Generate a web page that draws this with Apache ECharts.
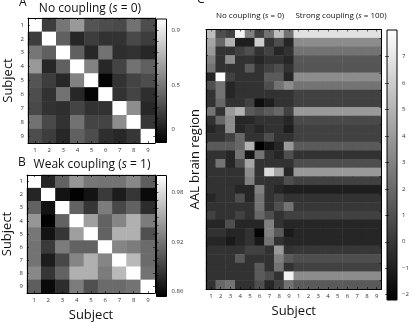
<!DOCTYPE html>
<html>
<head>
<meta charset="utf-8">
<script src="https://cdn.jsdelivr.net/npm/echarts@6/dist/echarts.min.js"></script>
<style>
  html, body { margin: 0; padding: 0; background: #fff; }
  #main { width: 412px; height: 323px; }
</style>
</head>
<body>
<div id="main"></div>
<script>
// subject labels (1..9)
var subjects = ['1', '2', '3', '4', '5', '6', '7', '8', '9']

// A: no coupling (s = 0), subject x subject correlation
var noCouplingA = [
  [1, 0.15, 0.4, 0.55, 0.25, 0.22, 0.2, 0.38, 0.22],
  [0.15, 1, 0.3, 0.05, 0.15, 0.1, 0.1, 0.2, 0.15],
  [0.4, 0.3, 1, 0.3, 0.05, 0.38, 0.08, 0.1, 0.05],
  [0.55, 0.05, 0.3, 1, 0.45, 0.05, 0.18, 0.38, 0.3],
  [0.25, 0.15, 0.05, 0.45, 1, -0.1, 0.1, 0.18, 0.22],
  [0.22, 0.1, 0.38, 0.05, -0.1, 1, 0.1, 0.18, 0.08],
  [0.2, 0.1, 0.08, 0.18, 0.1, 0.1, 1, 0.5, 0.05],
  [0.38, 0.2, 0.1, 0.38, 0.18, 0.18, 0.5, 1, 0.12],
  [0.22, 0.15, 0.05, 0.3, 0.22, 0.08, 0.05, 0.12, 1]
]

// B: weak coupling (s = 1)
var weakCouplingB = [
  [1, 0.875, 0.91, 0.94, 0.922, 0.92, 0.92, 0.932, 0.908],
  [0.875, 1, 0.865, 0.855, 0.865, 0.887, 0.87, 0.885, 0.86],
  [0.91, 0.865, 1, 0.91, 0.885, 0.925, 0.895, 0.91, 0.88],
  [0.94, 0.855, 0.91, 1, 0.945, 0.91, 0.93, 0.955, 0.925],
  [0.922, 0.865, 0.885, 0.945, 1, 0.91, 0.955, 0.955, 0.9],
  [0.92, 0.887, 0.925, 0.91, 0.91, 1, 0.93, 0.925, 0.915],
  [0.92, 0.87, 0.895, 0.93, 0.955, 0.93, 1, 0.96, 0.915],
  [0.932, 0.885, 0.91, 0.955, 0.955, 0.925, 0.96, 1, 0.92],
  [0.908, 0.86, 0.88, 0.925, 0.9, 0.915, 0.915, 0.92, 1]
]

// C: region x subject, no coupling
var regionNoCoupling = [
  [5.4, 0.9, 0.4, 7.5, 2.9, 0.4, 2.4, 5.4, 2.4],
  [4.4, 1.9, 4.9, -1.0, -1.0, 6.0, -0.2, 0.9, -0.7],
  [3.9, -0.2, -0.2, 0.4, 0.9, -0.2, 0.4, -0.7, -0.2],
  [2.9, -0.2, 3.4, -0.2, -0.2, -0.7, -0.2, -0.2, -0.7],
  [2.4, -0.2, -0.2, -0.2, 1.4, -0.2, 0.4, 0.9, -0.2],
  [-0.7, 8.0, 0.4, -0.2, -0.2, -0.2, 1.4, 1.4, -0.7],
  [0.9, 2.4, -0.7, -0.2, -0.2, -0.2, 0.9, 2.4, 3.4],
  [-0.2, 2.4, -0.7, -0.2, -0.2, -0.2, -0.2, -0.2, -0.2],
  [-0.2, 1.9, -0.2, -0.2, 0.4, -1.7, -1.0, -0.2, -0.2],
  [2.4, -0.2, 3.9, 4.9, 1.4, 0.9, 1.4, 1.9, 0.4],
  [-0.2, 1.9, 3.4, -0.7, -0.7, -0.2, -0.2, -0.2, -0.7],
  [-0.7, -0.2, 3.4, -0.7, -0.2, -0.7, -0.2, -0.2, -1.0],
  [-0.2, -0.2, 0.4, 1.9, -0.2, -0.2, 0.9, -0.2, -0.2],
  [1.4, 1.4, 1.4, 1.9, 4.9, -2.2, -1.4, -0.7, 3.9],
  [-0.2, -0.2, -0.7, 2.4, -1.4, 2.4, -0.2, -0.7, 0.9],
  [-0.2, 2.4, -0.7, 0.9, 4.4, -0.2, -0.2, -0.2, -0.2],
  [-0.2, -0.2, -0.2, -0.2, 3.4, -0.2, 6.5, 4.4, -0.7],
  [-0.2, -0.2, -0.2, -0.2, 2.9, -0.2, -0.2, -0.2, 0.9],
  [-0.2, -0.2, -0.2, -0.7, -0.7, 2.9, -0.2, -0.7, -1.0],
  [-0.7, -0.2, -0.2, 0.9, -0.7, 2.4, -0.2, 0.4, -0.2],
  [-0.2, -0.2, -0.2, -0.2, -0.2, 2.4, -0.2, 0.9, 2.4],
  [0.4, -0.2, -0.2, 0.4, -0.2, 1.9, 0.9, -0.2, 0.4],
  [-0.7, -0.7, 0.9, -0.7, -0.7, -0.7, 2.9, -0.2, -0.7],
  [-0.2, -0.2, -0.7, -0.7, -0.2, -2.0, 2.9, 1.4, -1.2],
  [-0.7, -0.7, -1.2, -0.7, -0.2, -1.2, 2.4, -0.2, -0.7],
  [-0.2, -0.2, -0.2, -0.2, 0.4, 0.4, -0.2, 3.9, -0.2],
  [-0.2, -0.2, -0.2, 1.4, -0.2, -0.2, -0.2, 2.9, 1.4],
  [-0.2, -0.2, -0.2, -0.2, -0.2, 1.4, -0.2, 2.4, -0.2],
  [-0.2, -0.2, -0.2, -0.2, -0.2, 1.4, 0.9, -0.2, 7.5],
  [-0.2, 1.9, 2.4, -0.2, -0.2, 0.9, -0.7, 0.4, 2.4]
]

// C: strong coupling (s = 100), one value per region (same for every subject)
var regionStrongCoupling = [6.8, 3.4, 2.4, 1.3, 1.2, 3.4, 2.4, 0.4, 0.4, 3.9,
  0.7, 0.4, 0.4, 1.4, -0.2, 0.9, 3.9, 0.4, -1.0, -0.2,
  0.0, 0.4, -0.7, -0.7, -0.7, 0.0, 0.9, 0.4, 3.4, 1.4]

// colour bar ranges and ticks
var rangeA = [-0.12, 1.0]
var rangeB = [0.854, 1.0]
var rangeC = [-2.2, 8.0]
var cbATicks = [0, 0.1, 0.2, 0.3, 0.4, 0.5, 0.6, 0.7, 0.8, 0.9]
var cbALabelValues = [0, 0.4, 0.9]
var cbALabels = ['0', '0.5', '0.9']
var cbBTicks = [0.86, 0.87, 0.88, 0.89, 0.9, 0.91, 0.92, 0.93, 0.94, 0.95, 0.96, 0.97, 0.98, 0.99]
var cbBLabels = [0.86, 0.92, 0.98]
var cbCTicks = [-2, -1, 0, 1, 2, 3, 4, 5, 6, 7]

var regionRows = regionNoCoupling.map(function (r, i) { return String(i + 1) })
var subjectsC = subjects.concat(subjects)

function cells(matrix) {
  var out = []
  matrix.forEach(function (row, r) {
    row.forEach(function (v, c) {
      out.push([c, r, v])
    })
  })
  return out
}

var matrixC = regionNoCoupling.map(function (row, r) {
  return row.concat(subjects.map(function () { return regionStrongCoupling[r] }))
})

var FONT = 'Open Sans'
var tickFont = { fontSize: 6, color: '#333', fontFamily: FONT }
var lineBlack = { show: true, lineStyle: { color: '#000', width: 1 } }

function catAxis(gridIndex, data, position, opts) {
  opts = opts || {}
  return Object.assign({
    type: 'category',
    gridIndex: gridIndex,
    data: data,
    position: position,
    inverse: opts.inverse || false,
    z: 5,
    axisLine: lineBlack,
    axisTick: { show: true, inside: true, length: 2, alignWithLabel: true, lineStyle: { color: '#000', width: 0.6 } },
    axisLabel: Object.assign({ show: !!opts.labels, margin: 4 }, tickFont),
    splitLine: { show: false }
  }, opts.extra || {})
}

function cbValueAxis(gridIndex, range, ticks, position, labelValues, formatter) {
  return {
    type: 'value',
    gridIndex: gridIndex,
    position: position,
    min: range[0],
    max: range[1],
    axisLine: { show: false },
    splitLine: { show: false },
    axisTick: { show: true, inside: true, length: 2, customValues: ticks, lineStyle: { color: '#000', width: 0.6 } },
    axisLabel: labelValues ? Object.assign({ show: true, margin: 5, customValues: labelValues, formatter: formatter }, tickFont) : { show: false }
  }
}

function cbHiddenX(gridIndex) {
  return { type: 'value', gridIndex: gridIndex, min: 0, max: 1, show: false }
}

function gray() {
  return new echarts.graphic.LinearGradient(0, 0, 0, 1, [
    { offset: 0, color: '#ffffff' },
    { offset: 1, color: '#000000' }
  ])
}

function richTitle(pre, post, left, top, size) {
  return {
    text: '{n|' + pre + '}{i|s}{n|' + post + '}',
    left: left,
    top: top,
    textAlign: 'center',
    padding: 0,
    textStyle: {
      fontWeight: 'normal',
      rich: {
        n: { fontSize: size, fontFamily: FONT, fontWeight: 'normal', color: '#111' },
        i: { fontSize: size, fontFamily: FONT, fontWeight: 'normal', color: '#111', fontStyle: 'italic' }
      }
    }
  }
}

function letter(t, left, top) {
  return { text: t, left: left, top: top, padding: 0, textStyle: { fontSize: 12, fontWeight: 'normal', fontFamily: FONT, color: '#111' } }
}

var nameStyle = { fontSize: 13, fontFamily: FONT, color: '#111' }

var myChart = echarts.init(document.getElementById('main'), null, { renderer: 'canvas' })

myChart.setOption({
  animation: false,
  backgroundColor: '#fff',
  title: [
    letter('A', 19, -3),
    letter('B', 18, 157),
    letter('C', 197, -6),
    richTitle('No coupling (', ' = 0)', 90, 3, 12),
    richTitle('Weak coupling (', ' = 1)', 92, 159, 12),
    richTitle('No coupling (', ' = 0)', 250, 12, 8),
    richTitle('Strong coupling (', ' = 100)', 341, 12, 8)
  ],
  grid: [
    { left: 28, top: 18, width: 127, height: 125, containLabel: false },
    { left: 156.5, top: 19, width: 10, height: 123.5, show: true, backgroundColor: gray(), borderColor: '#000', borderWidth: 1 },
    { left: 27, top: 175, width: 128, height: 123 },
    { left: 156.5, top: 175.5, width: 10, height: 121, show: true, backgroundColor: gray(), borderColor: '#000', borderWidth: 1 },
    { left: 206, top: 29.5, width: 175.5, height: 268.5 },
    { left: 387, top: 30, width: 10, height: 270, show: true, backgroundColor: gray(), borderColor: '#000', borderWidth: 1 }
  ],
  xAxis: [
    catAxis(0, subjects, 'bottom', { labels: true }),
    catAxis(0, subjects, 'top'),
    cbHiddenX(1),
    catAxis(2, subjects, 'bottom', { labels: true, extra: { name: 'Subject', nameLocation: 'middle', nameGap: 16, nameTextStyle: nameStyle } }),
    catAxis(2, subjects, 'top'),
    cbHiddenX(3),
    catAxis(4, subjectsC, 'bottom', { labels: true, extra: { name: 'Subject', nameLocation: 'middle', nameGap: 16, nameTextStyle: nameStyle } }),
    catAxis(4, subjectsC, 'top'),
    cbHiddenX(5)
  ],
  yAxis: [
    catAxis(0, subjects, 'left', { labels: true, inverse: true, extra: { name: 'Subject', nameLocation: 'middle', nameGap: 13, nameTextStyle: nameStyle } }),
    catAxis(0, subjects, 'right', { inverse: true }),
    cbValueAxis(1, rangeA, cbATicks, 'right', cbALabelValues, function (v) {
      return cbALabels[cbALabelValues.indexOf(v)]
    }),
    cbValueAxis(1, rangeA, cbATicks, 'left'),
    catAxis(2, subjects, 'left', { labels: true, inverse: true, extra: { name: 'Subject', nameLocation: 'middle', nameGap: 13, nameTextStyle: nameStyle } }),
    catAxis(2, subjects, 'right', { inverse: true }),
    cbValueAxis(3, rangeB, cbBTicks, 'right', cbBLabels, function (v) { return v.toFixed(2) }),
    cbValueAxis(3, rangeB, cbBTicks, 'left'),
    catAxis(4, regionRows, 'left', {
      inverse: true,
      extra: {
        name: 'AAL brain region', nameLocation: 'middle', nameGap: 4, nameTextStyle: nameStyle,
        axisTick: { show: true, inside: true, length: 2, interval: function (i) { return i % 2 === 1 }, lineStyle: { color: '#000', width: 0.6 } }
      }
    }),
    catAxis(4, regionRows, 'right', {
      inverse: true,
      extra: {
        axisTick: { show: true, inside: true, length: 2, interval: function (i) { return i % 2 === 1 }, lineStyle: { color: '#000', width: 0.6 } }
      }
    }),
    cbValueAxis(5, rangeC, cbCTicks, 'right', cbCTicks, function (v) { return v < 0 ? '\u2212' + Math.abs(v) : String(v) }),
    cbValueAxis(5, rangeC, cbCTicks, 'left')
  ],
  visualMap: [
    { type: 'continuous', show: false, seriesIndex: 0, min: rangeA[0], max: rangeA[1], inRange: { color: ['#000000', '#ffffff'] } },
    { type: 'continuous', show: false, seriesIndex: 1, min: rangeB[0], max: rangeB[1], inRange: { color: ['#000000', '#ffffff'] } },
    { type: 'continuous', show: false, seriesIndex: 2, min: rangeC[0], max: rangeC[1], inRange: { color: ['#000000', '#ffffff'] } }
  ],
  series: [
    { type: 'heatmap', xAxisIndex: 0, yAxisIndex: 0, data: cells(noCouplingA) },
    { type: 'heatmap', xAxisIndex: 3, yAxisIndex: 4, data: cells(weakCouplingB) },
    { type: 'heatmap', xAxisIndex: 6, yAxisIndex: 8, data: cells(matrixC) }
  ]
})
</script>
</body>
</html>
